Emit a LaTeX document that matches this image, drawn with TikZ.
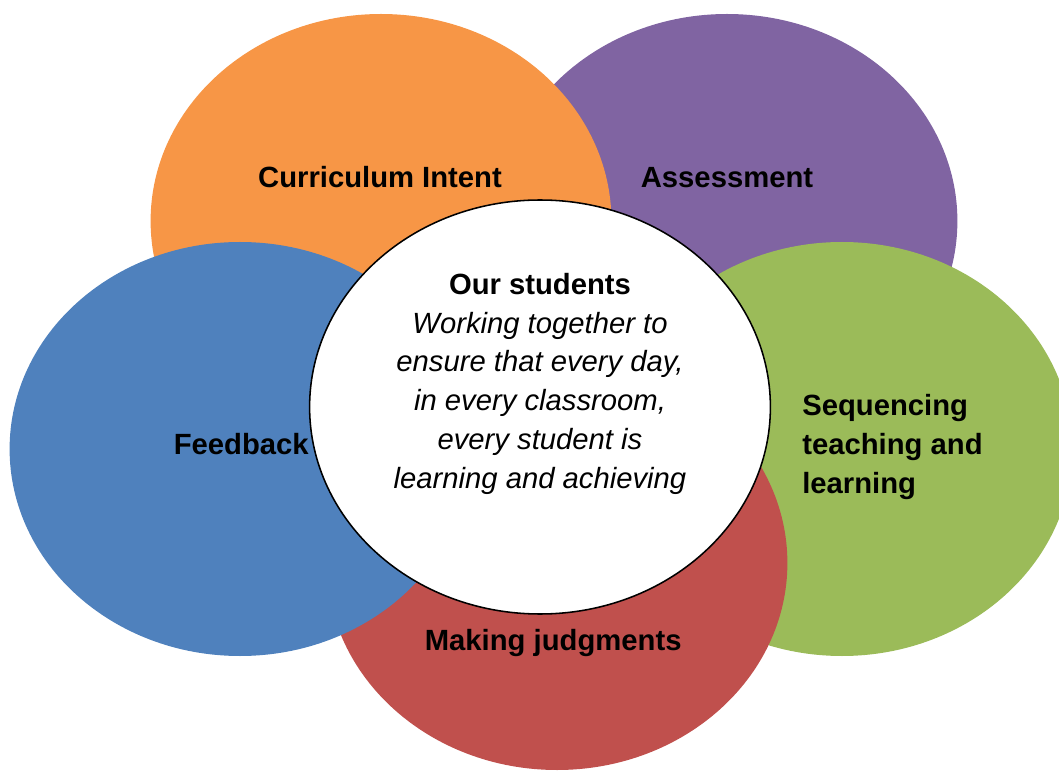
\documentclass[tikz,border=0pt]{standalone}
\usepackage{fontspec}
\setmainfont{Liberation Sans}
\usepackage{tikz}
\usetikzlibrary{shapes}

\definecolor{assesscol}{HTML}{8064A2}
\definecolor{intentcol}{HTML}{F79646}
\definecolor{seqcol}{HTML}{9BBB59}
\definecolor{judgecol}{HTML}{C0504D}
\definecolor{feedcol}{HTML}{4F81BD}

\begin{document}
\begin{tikzpicture}
		\tikzset{blob/.style={ellipse,fill=#1,inner sep=0pt,minimum width=11.52cm,minimum height=10.35cm}};
		\tikzset{lbl/.style={inner sep=0pt,align=center,font=\fontsize{20.8}{27.6}\selectfont\bfseries}};
		
		\clip (0,0) rectangle (26.475,19.275);
		\foreach \p/\c/\n in {{(18.175,13.75)}/assesscol/assess,{(9.525,13.75)}/intentcol/intent,{(21.05,8.05)}/seqcol/seq,{(13.925,5.2)}/judgecol/judge,{(6.0,8.05)}/feedcol/feed}
		\node (\n) at \p [blob=\c]{};
		
		\node (core) at (13.5,9.1) [blob=white,draw=black,line width=1.1pt]{};
		
		\node (intentlbl) at (9.5,14.84) [lbl]{Curriculum Intent};
		\node (assesslbl) at (18.175,14.83) [lbl]{Assessment};
		\node (feedlbl) at (6.03,8.17) [lbl]{Feedback};
		\node (seqlbl) at (20.05,8.1) [lbl,anchor=west,align=left]{Sequencing\\teaching and\\learning};
		\node (judgelbl) at (13.83,3.2) [lbl]{Making judgments};
		\node (corelbl) at (13.5,9.68) [lbl,font=\fontsize{20.8}{27.6}\selectfont]{\textbf{Our students}\\\itshape Working together to\\\itshape ensure that every day,\\\itshape in every classroom,\\\itshape every student is\\\itshape learning and achieving};
		\end{tikzpicture}
\end{document}
